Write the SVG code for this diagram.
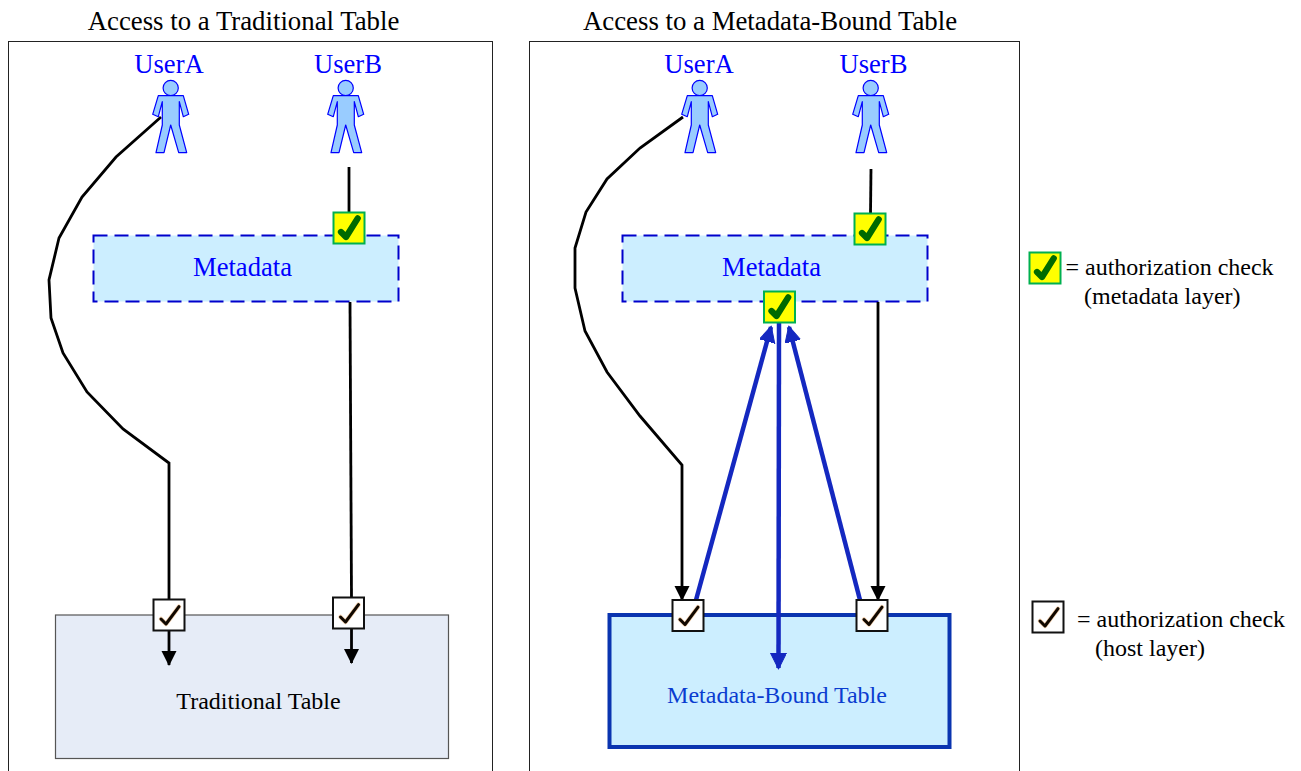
<svg xmlns="http://www.w3.org/2000/svg" width="1301" height="771" viewBox="0 0 1301 771">
<style>
text{font-family:"Liberation Serif","Times New Roman",serif}
.t{font-size:26.8px;fill:#000;text-anchor:middle}
.b{font-size:26.6px;fill:#0000ff;text-anchor:middle}
.l{font-size:24px;fill:#000}
.frame{fill:#fff;stroke:#222;stroke-width:1}
.meta{fill:#cceeff;stroke:#0000cc;stroke-width:2;stroke-dasharray:14 7}
.c{fill:none;stroke:#000;stroke-width:2.800}
.bl{fill:none;stroke:#1428c0;stroke-width:4.500}
</style>
<defs>
<marker id="ak" markerUnits="userSpaceOnUse" markerWidth="16" markerHeight="16" refX="14" refY="7.500" orient="auto"><path d="M0 0L15 7.500L0 15z" fill="#000"/></marker>
<marker id="ab" markerUnits="userSpaceOnUse" markerWidth="20" markerHeight="20" refX="15" refY="8" orient="auto"><path d="M0 0L16 8L0 16z" fill="#1428c0" stroke="#1428c0" stroke-linejoin="round"/></marker>
<g id="person"><circle cx="0" cy="0" r="7.600" fill="#99ccff" stroke="#0000ff" stroke-width="1.200"/><path d="M-12.400 7.700H12.600L18 26.300L12.600 28.700L8.600 13.700V37L16 64.700H8L0 37L-6.700 64.700H-14.700L-8.400 37L-8.400 13.700L-12.400 28.700L-18 26.300Z" fill="#99ccff" stroke="#0000ff" stroke-width="1.200" stroke-linejoin="round"/></g>
<g id="yes"><rect x="-15.500" y="-15.500" width="31" height="31" fill="#ffff00" stroke="#00b050" stroke-width="2"/><path d="M-8 4L-3 9L8.700 -9.700" fill="none" stroke="#006a00" stroke-width="6.300" stroke-linecap="round" stroke-linejoin="round"/></g>
<g id="host"><rect x="-15.500" y="-15.500" width="31" height="31" fill="#fff" stroke="#111" stroke-width="2"/><path d="M-8 4L-3 9L10 -8.300" fill="none" stroke="#f4d2b0" stroke-width="4.500" stroke-linecap="round" stroke-linejoin="round"/><path d="M-8 4L-3 9L10 -8.300" fill="none" stroke="#100800" stroke-width="3" stroke-linecap="round" stroke-linejoin="round"/></g>
</defs>

<text class="t" x="243.500" y="30">Access to a Traditional Table</text>
<text class="t" x="770" y="30">Access to a Metadata-Bound Table</text>
<rect class="frame" x="8.500" y="41.500" width="484" height="740"/>
<rect class="frame" x="529.500" y="41.500" width="490" height="740"/>

<g id="trad-table"><rect x="55.500" y="615" width="393" height="143.500" fill="#e6ecf7" stroke="#555" stroke-width="1.200"/><text x="258.500" y="709" font-size="24" text-anchor="middle">Traditional Table</text></g>
<g id="mb-table"><rect x="609.500" y="615" width="340" height="132" fill="#cceeff" stroke="#0a34b0" stroke-width="4"/><text x="777" y="703" font-size="24" text-anchor="middle" fill="#0a3cd0">Metadata-Bound Table</text></g>
<g id="meta-a"><rect class="meta" x="93.500" y="235.500" width="305" height="66"/><text class="b" x="242.500" y="276">Metadata</text></g>
<g id="meta-b"><rect class="meta" x="622.500" y="235.500" width="305" height="66"/><text class="b" x="771.500" y="276">Metadata</text></g>

<g id="connectors">
<path class="c" d="M161 117L116 157L82 197L59 238L49 280L51 318L63 353L87 392L123 429L169 463V600"/>
<path class="c" d="M169 631V665" marker-end="url(#ak)"/>
<path class="c" d="M349 167V213"/>
<path class="c" d="M350 302L351.500 598"/>
<path class="c" d="M351.500 629V663" marker-end="url(#ak)"/>
<path class="c" d="M683 117L640 148L607 179L586 212L575 248V288L585 331L607 372L640 416L682 465V600" marker-end="url(#ak)"/>
<path class="c" d="M871 169L870.500 214"/>
<path class="c" d="M878 302V600" marker-end="url(#ak)"/>
<path class="bl" d="M696 600L771 327" marker-end="url(#ab)"/>
<path class="bl" d="M860 600L789 327" marker-end="url(#ab)"/>
<path class="bl" d="M779 322L778.500 668" marker-end="url(#ab)"/>
</g>

<g id="user-a-1"><text class="b" x="169" y="72.500">UserA</text><use href="#person" x="170.700" y="88"/></g>
<g id="user-b-1"><text class="b" x="348" y="72.500">UserB</text><use href="#person" x="345.700" y="88"/></g>
<g id="user-a-2"><text class="b" x="699" y="72.500">UserA</text><use href="#person" x="699.700" y="88"/></g>
<g id="user-b-2"><text class="b" x="873.500" y="72.500">UserB</text><use href="#person" x="870.700" y="88"/></g>

<g id="check-meta-1"><use href="#yes" x="349" y="228"/></g>
<g id="check-meta-2"><use href="#yes" x="870" y="229"/></g>
<g id="check-meta-3"><use href="#yes" x="779.500" y="307"/></g>
<g id="check-host-1"><use href="#host" x="169" y="615"/></g>
<g id="check-host-2"><use href="#host" x="348.500" y="613"/></g>
<g id="check-host-3"><use href="#host" x="688" y="615.500"/></g>
<g id="check-host-4"><use href="#host" x="872" y="615.500"/></g>

<g id="legend-meta"><use href="#yes" x="1045" y="268"/><text class="l" x="1065.500" y="275">= authorization check</text><text class="l" x="1084" y="304">(metadata layer)</text></g>
<g id="legend-host"><use href="#host" x="1048" y="617"/><text class="l" x="1077" y="627">= authorization check</text><text class="l" x="1095" y="656">(host layer)</text></g>
</svg>
